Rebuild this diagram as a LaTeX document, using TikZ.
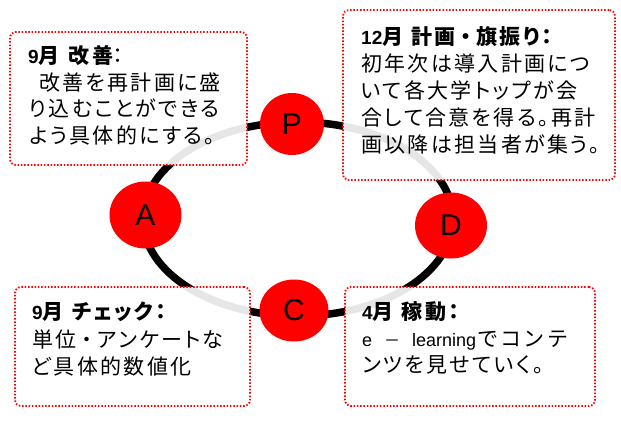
\documentclass[tikz,border=0pt]{standalone}
\usepackage{fontspec}
\usetikzlibrary{shapes.geometric}
\newfontfamily\jp[RawFeature={+palt},LetterSpace=11]{Noto Sans CJK JP}
\newfontfamily\jpw[LetterSpace=11]{Noto Sans CJK JP}
\newfontfamily\lat{Liberation Sans}
\newcommand{\dg}[1]{{\lat\fontsize{19}{20}\selectfont #1}}
\newcommand{\ltx}[1]{{\lat\fontsize{18}{20}\selectfont #1}}
\tikzset{
  pdca/.style={ellipse, fill=red, inner sep=0pt, font=\lat\fontsize{30}{30}\selectfont},
  memo/.style={draw=red, line width=1.8pt, dash pattern=on 1.5pt off 1.8pt,
    rounded corners=6pt, fill=white, fill opacity=0.9, inner sep=0pt},
  ln/.style={anchor=base west, inner sep=0pt, font=\jp\fontsize{21}{21}\selectfont},
  ring/.style={line width=7.5pt, black}
}
\begin{document}
\begin{tikzpicture}[x=1pt,y=-1pt]
\useasboundingbox (0,0) rectangle (621,423);
% cycle
\coordinate (ctr) at (298,219);
\draw[ring] (ctr) ellipse [x radius=155pt, y radius=97pt];
% memo boxes
\node[memo, minimum width=237pt, minimum height=133pt] (boxA) at (128.5,98.5) {};
\node[memo, minimum width=272pt, minimum height=170pt] (boxP) at (479,95) {};
\node[memo, minimum width=235pt, minimum height=119pt] (boxC) at (132.5,346.5) {};
\node[memo, minimum width=250pt, minimum height=119pt] (boxD) at (470,346.5) {};
% PDCA circles
\node[pdca, minimum width=64pt, minimum height=62pt] (P) at (292,124) {P};
\node[pdca, minimum width=72pt, minimum height=67pt] (A) at (145.5,215) {A};
\node[pdca, minimum width=72pt, minimum height=66pt] (D) at (451,225.5) {D};
\node[pdca, minimum width=69pt, minimum height=62pt] (C) at (294,310.5) {C};
% texts box A
\node[ln] (a0) at (28,63) {\bfseries\dg{9}月\hspace{9pt}改善\mdseries ：};
\node[ln] (a1) at (39,90) {改善を再計画に盛};
\node[ln] (a2) at (29,116.5) {り込むことができる};
\node[ln] (a3) at (29,143) {よう具体的にする。};
% texts box P
\node[ln] (p0) at (361,44) {\bfseries\dg{12}月\hspace{8pt}計画{\jpw ・}旗振り：};
\node[ln] (p1) at (361,71) {初年次は導入計画につ};
\node[ln] (p2) at (361,98) {いて各大学トップが会};
\node[ln] (p3) at (361,125) {合して合意を得る。再計};
\node[ln] (p4) at (361,152) {画以降は担当者が集う。};
% texts box C
\node[ln] (c0) at (32,319.5) {\bfseries\dg{9}月\hspace{8pt}チェック：};
\node[ln] (c1) at (32,347) {単位{\jpw ・}アンケートな};
\node[ln] (c2) at (32,374) {ど具体的数値化};
% texts box D
\node[ln] (d0) at (362,319) {\bfseries\dg{4}月\hspace{8pt}稼動：};
\node[ln] (d1) at (362,346) {\ltx{e}\makebox[40pt][c]{\jpw\fontsize{16}{16}\selectfont －}\ltx{learning}\hspace{1pt}{\jpw でコンテ}};
\node[ln] (d2) at (362,372.5) {ンツを見せていく。};
\end{tikzpicture}
\end{document}
